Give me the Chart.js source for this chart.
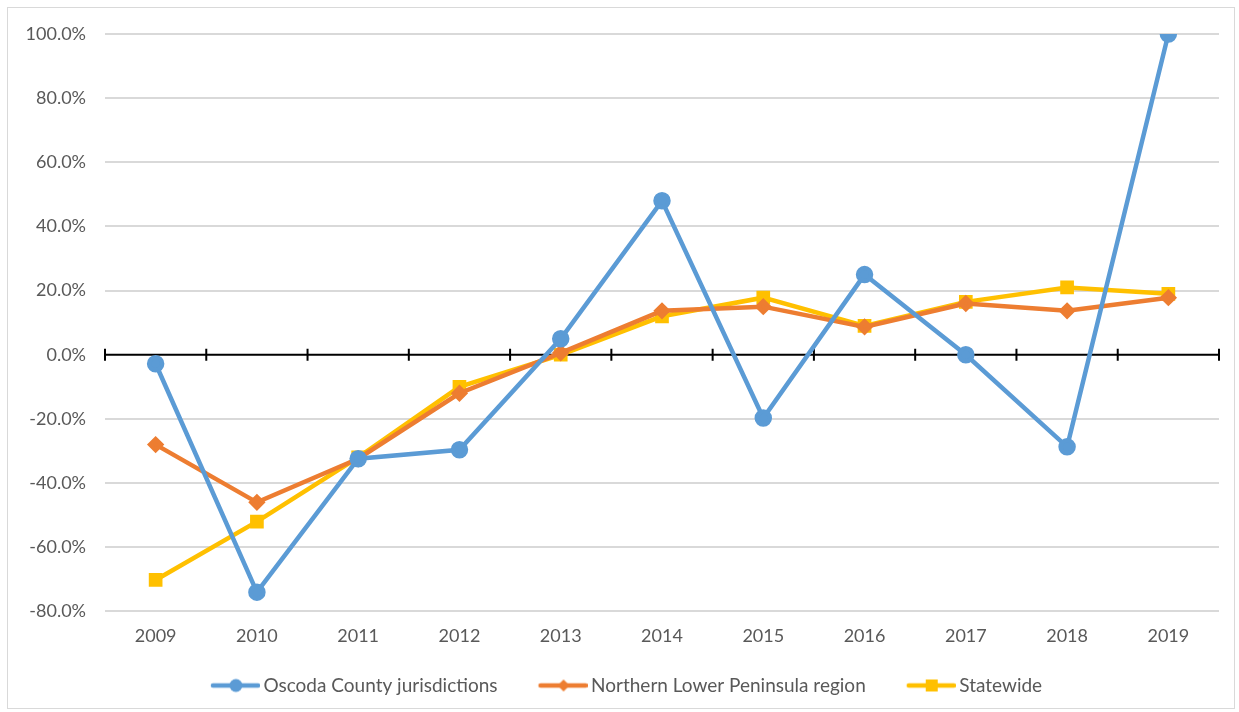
<!DOCTYPE html>
<html>
<head>
<meta charset="utf-8">
<script src="https://cdn.jsdelivr.net/npm/chart.js@4"></script>
<style>
  body { margin: 0; background: #fff; }
  #box { position: absolute; left: 7px; top: 7px; width: 1226px; height: 700px; border: 1px solid #d9d9d9; }
  canvas { display: block; }
</style>
</head>
<body>
<div id="box"><canvas id="lineChart" width="1226" height="700"></canvas></div>
<script>
// data
const years = ["2009", "2010", "2011", "2012", "2013", "2014", "2015", "2016", "2017", "2018", "2019"];
const oscoda = [-2.8, -74, -32.4, -29.6, 5, 48, -19.7, 25, 0, -28.7, 100];
const northern = [-28, -46, -32.4, -12, 0.6, 13.7, 15, 8.7, 16, 13.7, 17.8];
const statewide = [-70.2, -52, -32, -10, 0, 12, 17.8, 9, 16.5, 21, 19];
const seriesNames = ["Oscoda County jurisdictions", "Northern Lower Peninsula region", "Statewide"];
const yTicks = [-80, -60, -40, -20, 0, 20, 40, 60, 80, 100];

const blue = '#5B9BD5';
const orange = '#ED7D31';
const yellow = '#FFC000';

// legend icon: a short line with the marker on it (blank space on the left = gap to previous item)
function legendIcon(color, shape) {
    const c = document.createElement('canvas');
    c.width = 81; c.height = 16;
    const g = c.getContext('2d');
    g.strokeStyle = color; g.fillStyle = color;
    g.lineWidth = 4.5; g.lineCap = 'round';
    g.beginPath(); g.moveTo(34, 8); g.lineTo(79, 8); g.stroke();
    g.beginPath();
    const cx = 57;
    if (shape === 'circle') {
        g.arc(cx, 8, 6.5, 0, Math.PI * 2);
    } else if (shape === 'diamond') {
        g.moveTo(cx, 2); g.lineTo(cx + 6, 8); g.lineTo(cx, 14); g.lineTo(cx - 6, 8); g.closePath();
    } else {
        g.rect(cx - 6, 2, 12, 12);
    }
    g.fill();
    return c;
}
const icons = [legendIcon(blue, 'circle'), legendIcon(orange, 'diamond'), legendIcon(yellow, 'square')];

// zero axis line with tick marks at category boundaries
const zeroAxis = {
    id: 'zeroAxis',
    beforeDatasetsDraw(chart) {
        const ctx = chart.ctx;
        const x = chart.scales.x;
        const y0 = chart.scales.y.getPixelForValue(0);
        const area = chart.chartArea;
        ctx.save();
        ctx.strokeStyle = '#000';
        ctx.lineWidth = 2;
        ctx.beginPath();
        ctx.moveTo(area.left, y0); ctx.lineTo(area.right, y0);
        for (let i = 0; i <= years.length; i++) {
            let px;
            if (i === 0) px = area.left;
            else if (i === years.length) px = area.right;
            else px = (x.getPixelForValue(i - 1) + x.getPixelForValue(i)) / 2;
            ctx.moveTo(px, y0 - 6); ctx.lineTo(px, y0 + 6);
        }
        ctx.stroke();
        ctx.restore();
    }
};

const ctx = document.getElementById('lineChart').getContext('2d');

new Chart(ctx, {
    type: 'line',
    data: {
        labels: years,
        datasets: [
            { label: seriesNames[0], data: oscoda, borderColor: blue, backgroundColor: blue,
              pointStyle: 'circle', pointRadius: 6.5, borderWidth: 4.5 },
            { label: seriesNames[1], data: northern, borderColor: orange, backgroundColor: orange,
              pointStyle: 'rectRot', pointRadius: 5.5, borderWidth: 4.5 },
            { label: seriesNames[2], data: statewide, borderColor: yellow, backgroundColor: yellow,
              pointStyle: 'rect', pointRadius: 6.5, borderWidth: 4.5 }
        ]
    },
    options: {
        responsive: false,
        animation: false,
        layout: { padding: { left: 0, right: 15, top: 26, bottom: 3 } },
        elements: { line: { tension: 0 }, point: { borderWidth: 0, hoverRadius: 6 } },
        plugins: {
            tooltip: { enabled: false },
            legend: {
                position: 'bottom',
                labels: {
                    usePointStyle: true,
                    pointStyleWidth: 69,
                    padding: 15,
                    color: '#595959',
                    font: { family: 'Lato', size: 19 },
                    generateLabels: chart => chart.data.datasets.map((ds, i) => ({
                        text: ds.label,
                        pointStyle: icons[i],
                        fillStyle: ds.borderColor,
                        strokeStyle: ds.borderColor,
                        lineWidth: 0,
                        fontColor: '#595959',
                        datasetIndex: i
                    }))
                }
            }
        },
        scales: {
            x: {
                offset: true,
                grid: { display: false, drawTicks: false },
                border: { display: false },
                ticks: { color: '#595959', font: { family: 'Lato', size: 18 }, padding: 14 }
            },
            y: {
                min: -80,
                max: 100,
                afterFit: scale => { scale.width = 97; scale.paddingTop = 0; scale.paddingBottom = 0; },
                afterBuildTicks: scale => { scale.ticks = yTicks.map(v => ({ value: v })); },
                border: { display: false },
                grid: {
                    drawTicks: false,
                    color: c => c.tick.value === 0 ? 'rgba(0,0,0,0)' : '#d9d9d9',
                    lineWidth: 2
                },
                ticks: {
                    color: '#595959',
                    font: { family: 'Lato', size: 18 },
                    padding: 19,
                    callback: v => v.toFixed(1) + '%'
                }
            }
        }
    },
    plugins: [zeroAxis]
});
</script>
</body>
</html>
